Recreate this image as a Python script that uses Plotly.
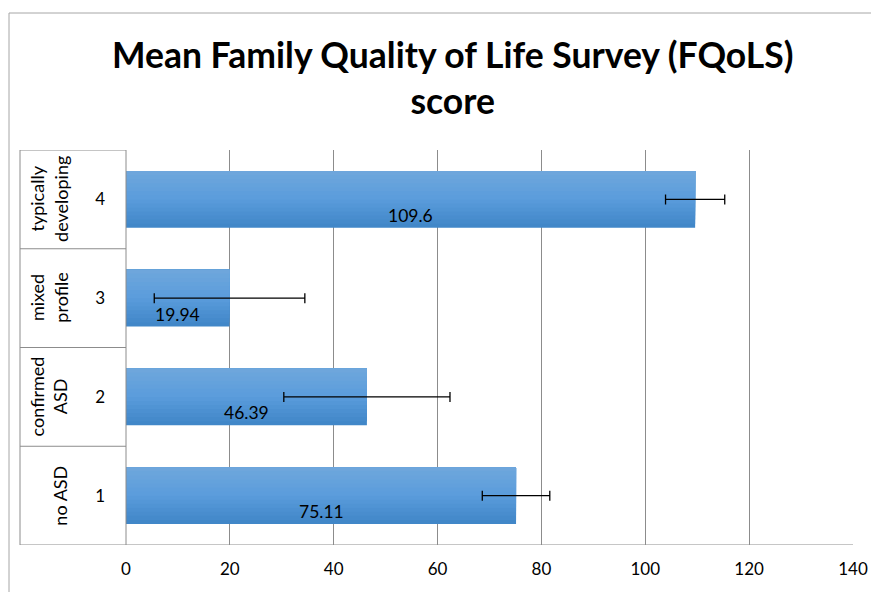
import plotly.graph_objects as go

# ---- data ----
categories = ["1", "2", "3", "4"]
groups = ["no ASD", "confirmed<br>ASD", "mixed<br>profile", "typically<br>developing"]
means = [75.11, 46.39, 19.94, 109.6]
errors = [6.5, 16.0, 14.5, 5.7]
x_ticks = [0, 20, 40, 60, 80, 100, 120, 140]
title_text = "Mean Family Quality of Life Survey (FQoLS)<br>score"

# page body has an 8px margin: draw in reference pixels minus 8
OFF = 8
W, H = 879 - OFF, 592 - OFF
ML, MR, MT, MB = 126 - OFF, 26, 150 - OFF, 47
PW = W - ML - MR
PH = H - MT - MB

def px_x(px):
    return (px - OFF - ML) / PW

def px_y(py):
    return (H - MB - (py - OFF)) / PH

FONT = "Lato, Calibri, Carlito, sans-serif"

fig = go.Figure()

# gradient bar built from overlaid slices
bar_h = 0.574
N = 14
top_c = (111, 167, 220)
mid_c = (90, 156, 220)
bot_c = (63, 133, 198)

def lerp(a, b, t):
    return tuple(int(round(a[i] + (b[i] - a[i]) * t)) for i in range(3))

for k in range(N):
    f = (k + 0.5) / N  # fraction from bottom
    if f < 0.5:
        c = lerp(bot_c, mid_c, f / 0.5)
    else:
        c = lerp(mid_c, top_c, (f - 0.5) / 0.5)
    off = -bar_h / 2 + k * bar_h / N
    wid = bar_h - k * bar_h / N
    fig.add_trace(go.Bar(
        y=categories, x=means, orientation="h",
        offset=off, width=wid,
        marker=dict(color="rgb(%d,%d,%d)" % c, line=dict(width=0)),
        hoverinfo="skip", showlegend=False,
    ))

# error bars
fig.add_trace(go.Scatter(
    y=categories, x=means, mode="markers",
    marker=dict(size=1, opacity=0),
    error_x=dict(type="data", array=errors, visible=True,
                 color="black", thickness=1.3, width=5),
    showlegend=False, hoverinfo="skip",
))

annotations = []
# data labels (centered horizontally, lower part of bar)
for i, v in enumerate(means):
    annotations.append(dict(
        x=v / 2, y=i, xref="x", yref="y", text=f"{v:g}",
        showarrow=False, yshift=-16,
        font=dict(family=FONT, size=17.5, color="black"),
    ))

# outer group labels (rotated)
for i, g in enumerate(groups):
    annotations.append(dict(
        x=px_x(73), y=i, xref="paper", yref="y", text=g,
        showarrow=False, textangle=-90, xanchor="right", yanchor="middle",
        font=dict(family=FONT, size=18, color="black"),
    ))

# title
annotations.append(dict(
    x=px_x(452), y=px_y(78), xref="paper", yref="paper",
    text="<b>" + title_text + "</b>", showarrow=False,
    xanchor="center", yanchor="middle",
    font=dict(family=FONT, size=35.5, color="black"),
))

shapes = []
gray = "#8C8C8C"
x_left = px_x(20)
for b in [-0.5, 0.5, 1.5, 2.5, 3.5]:
    shapes.append(dict(type="line", xref="paper", yref="y",
                       x0=x_left, x1=(1 if b == -0.5 else 0), y0=b, y1=b,
                       line=dict(color=gray, width=1)))
shapes.append(dict(type="line", xref="paper", yref="y",
                   x0=x_left, x1=x_left, y0=-0.5, y1=3.5,
                   line=dict(color=gray, width=1)))
shapes.append(dict(type="line", xref="paper", yref="y",
                   x0=0, x1=0, y0=-0.5, y1=3.5,
                   line=dict(color=gray, width=1)))
# chart border (top edge; left edge falls at the page margin)
bx = px_x(9)
by = px_y(13)
shapes.append(dict(type="line", xref="paper", yref="paper",
                   x0=bx, x1=bx, y0=by, y1=-0.3,
                   line=dict(color="#A6A6A6", width=1)))
shapes.append(dict(type="line", xref="paper", yref="paper",
                   x0=bx, x1=1.2, y0=by, y1=by,
                   line=dict(color="#A6A6A6", width=1)))

fig.update_layout(
    width=W, height=H,
    margin=dict(l=ML, r=MR, t=MT, b=MB),
    paper_bgcolor="white", plot_bgcolor="white",
    barmode="overlay",
    showlegend=False,
    annotations=annotations,
    shapes=shapes,
    font=dict(family=FONT, size=17, color="black"),
    xaxis=dict(range=[0, 140], tickvals=x_ticks, showgrid=True,
               gridcolor=gray, gridwidth=1, zeroline=False,
               showline=False, ticks="", ticklabelstandoff=12,
               tickfont=dict(family=FONT, size=17, color="black"),
               fixedrange=True),
    yaxis=dict(type="category", categoryorder="array", categoryarray=categories,
               range=[-0.5, 3.5], showgrid=False, zeroline=False,
               showline=False, ticks="", ticklabelstandoff=20,
               tickfont=dict(family=FONT, size=17, color="black"),
               fixedrange=True),
)

fig.write_html("out.html")
